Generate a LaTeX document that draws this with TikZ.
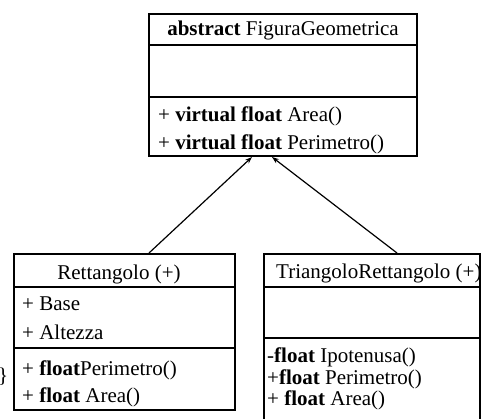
\documentclass[tikz,border=0pt]{standalone}
\usepackage{fontspec}
\setmainfont{Liberation Serif}
\usetikzlibrary{arrows.meta}
\begin{document}
\begin{tikzpicture}[x=1pt,y=-1pt,
  classbox/.style={draw, line width=2.6pt, inner sep=0pt, outer sep=0pt, anchor=north west},
  divider/.style={line width=1.2pt},
  member/.style={anchor=base west, inner sep=0pt, font=\fontsize{21}{25}\selectfont},
  classname/.style={anchor=base, inner sep=0pt, font=\fontsize{21}{25}\selectfont},
  inherit/.style={line width=1.2pt, -{Stealth[length=7pt,width=5pt]}}]
\useasboundingbox (0,0) rectangle (481,419);

% abstract base class
\node[classbox, minimum width=268pt, minimum height=142pt] (fg) at (149,14) {};
\draw[divider] (fg.west |- 0,45) -- (fg.east |- 0,45);
\draw[divider] (fg.west |- 0,97) -- (fg.east |- 0,97);
\node[classname] (fgname) at (283,36) {\textbf{abstract} FiguraGeometrica};
\node[member] (fgarea) at (158,122) {+ \textbf{virtual float} Area()};
\node[member] (fgper) at (158,150) {+ \textbf{virtual float} Perimetro()};

% Rettangolo
\node[classbox, minimum width=221pt, minimum height=156pt] (rett) at (14,254) {};
\draw[divider] (rett.west |- 0,287) -- (rett.east |- 0,287);
\draw[divider] (rett.west |- 0,348) -- (rett.east |- 0,348);
\node[classname] (rettname) at (119,279) {Rettangolo (+)};
\node[member] (rbase) at (22,310) {+ Base};
\node[member] (ralt) at (22,339) {+ Altezza};
\node[member] (rper) at (22,375) {+ \textbf{float}Perimetro()};
\node[member] (rarea) at (22,402) {+ \textbf{float} Area()};
\node[anchor=base east, inner sep=0pt, font=\fontsize{21}{25}\selectfont] (brace) at (8.5,382) {\}};

% TriangoloRettangolo
\node[classbox, minimum width=216pt, minimum height=180pt] (tri) at (264,254) {};
\draw[divider] (tri.west |- 0,287) -- (tri.east |- 0,287);
\draw[divider] (tri.west |- 0,338) -- (tri.east |- 0,338);
\node[member] (triname) at (276,278) {TriangoloRettangolo (+)};
\node[member] (tip) at (267,362) {-\textbf{float} Ipotenusa()};
\node[member] (tper) at (267,384) {+\textbf{float} Perimetro()};
\node[member] (tarea) at (267,405) {+ \textbf{float} Area()};

% inheritance connectors
\coordinate (rtop) at (149,253);
\coordinate (ttop) at (397,253);
\coordinate (fgin1) at (252,157);
\coordinate (fgin2) at (272,157);
\draw[inherit] (rtop) -- (fgin1);
\draw[inherit] (ttop) -- (fgin2);
\end{tikzpicture}
\end{document}
